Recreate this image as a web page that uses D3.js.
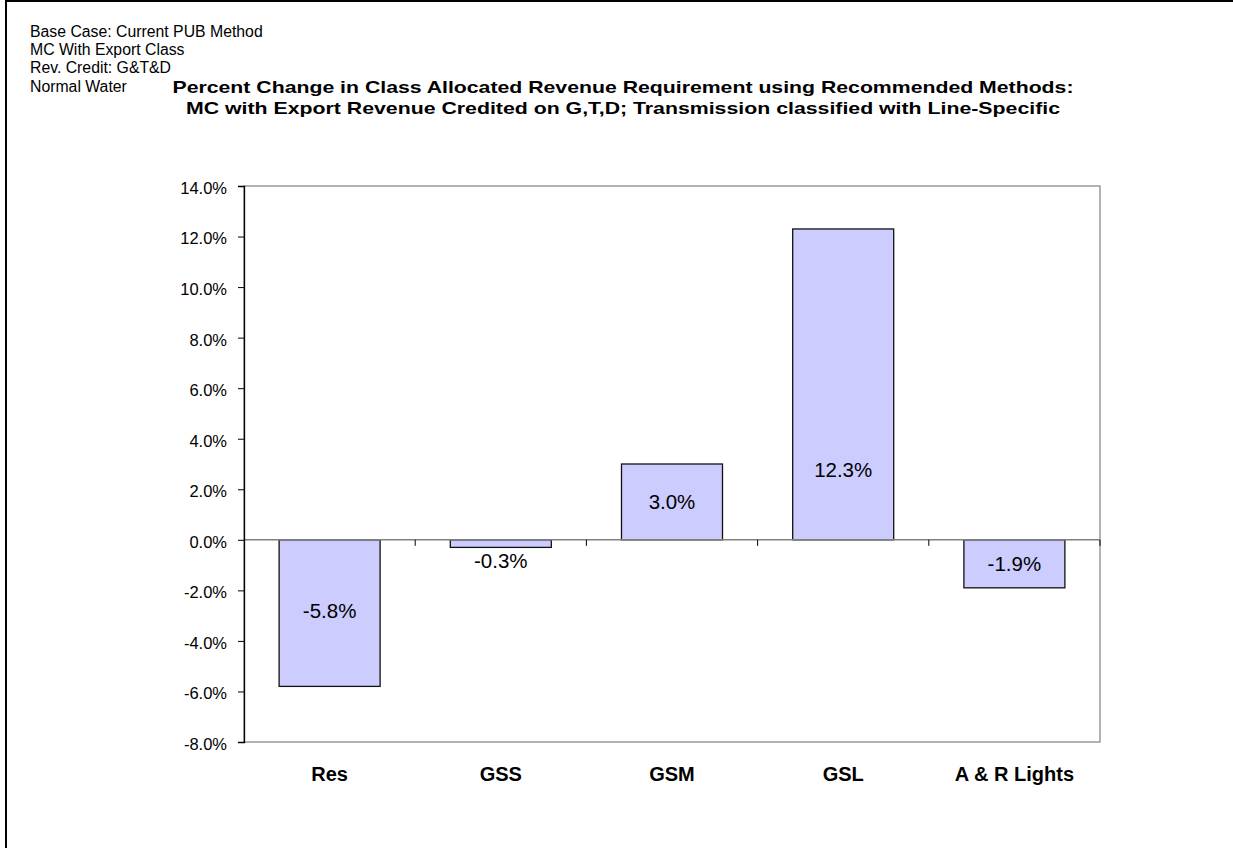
<!DOCTYPE html>
<html>
<head>
<meta charset="utf-8">
<script src="https://cdn.jsdelivr.net/npm/d3@7"></script>
<style>
  html, body { margin: 0; padding: 0; background: #fff; }
  svg { display: block; font-family: "Liberation Sans", Arial, sans-serif; }
</style>
</head>
<body>
<svg id="chart" width="1233" height="848"></svg>
<script>
// chart data
const categories = ['Res', 'GSS', 'GSM', 'GSL', 'A & R Lights'];
const values = [-5.8, -0.3, 3.0, 12.3, -1.9];
const yTicks = [-8, -6, -4, -2, 0, 2, 4, 6, 8, 10, 12, 14];
const notes = ['Base Case: Current PUB Method', 'MC With Export Class', 'Rev. Credit: G&T&D', 'Normal Water'];
const titleLines = [
  'Percent Change in Class Allocated Revenue Requirement using Recommended Methods:',
  'MC with Export Revenue Credited on G,T,D; Transmission classified with Line-Specific'
];

const svg = d3.select('#chart');
const plot = { left: 244, right: 1100, top: 186, bottom: 742 };
const font = '"Liberation Sans", Arial, sans-serif';

// outer chart border (only top/left show inside the frame)
svg.append('rect')
  .attr('x', 6).attr('y', 1)
  .attr('width', 1240).attr('height', 860)
  .attr('fill', 'none')
  .attr('stroke', '#000')
  .attr('stroke-width', 2);

// notes top-left
svg.append('g').selectAll('text')
  .data(notes)
  .enter()
  .append('text')
  .attr('x', 30)
  .attr('y', (d, i) => 37 + i * 18.2)
  .style('font-size', '15.8px')
  .text(d => d);

// title (the picture shows it widened, so stretch to the width seen there)
const titleWidths = [901, 874];
svg.append('g').selectAll('text')
  .data(titleLines)
  .enter()
  .append('text')
  .attr('x', 623)
  .attr('y', (d, i) => 92.5 + i * 21)
  .attr('text-anchor', 'middle')
  .attr('textLength', (d, i) => titleWidths[i])
  .attr('lengthAdjust', 'spacingAndGlyphs')
  .style('font-size', '17px')
  .style('font-weight', 'bold')
  .text(d => d);

const x = d3.scaleBand()
  .domain(categories)
  .range([plot.left, plot.right])
  .paddingInner(0.41)
  .paddingOuter(0.205);

const y = d3.scaleLinear()
  .domain([-8, 14])
  .range([plot.bottom, plot.top]);

// plot area frame
svg.append('rect')
  .attr('x', plot.left).attr('y', y(14))
  .attr('width', plot.right - plot.left)
  .attr('height', y(-8) - y(14))
  .attr('fill', 'none')
  .attr('stroke', '#808080')
  .attr('stroke-width', 1.2);

// bars
svg.append('g').selectAll('rect')
  .data(values)
  .enter()
  .append('rect')
  .attr('x', (d, i) => x(categories[i]))
  .attr('y', d => y(Math.max(0, d)))
  .attr('width', x.bandwidth())
  .attr('height', d => Math.abs(y(d) - y(0)))
  .attr('fill', '#ccccff')
  .attr('stroke', '#111')
  .attr('stroke-width', 1.3);

// zero line with category ticks
svg.append('line')
  .attr('x1', plot.left).attr('x2', plot.right)
  .attr('y1', y(0)).attr('y2', y(0))
  .attr('stroke', '#808080')
  .attr('stroke-width', 1.5);

const boundaries = d3.range(1, categories.length + 1)
  .map(i => plot.left + i * (plot.right - plot.left) / categories.length);
svg.append('g').selectAll('line')
  .data(boundaries)
  .enter()
  .append('line')
  .attr('x1', d => d).attr('x2', d => d)
  .attr('y1', y(0)).attr('y2', y(0) + 6)
  .attr('stroke', '#000')
  .attr('stroke-width', 1);

// y axis
const yAxis = d3.axisLeft(y)
  .tickValues(yTicks)
  .tickSize(6)
  .tickPadding(11)
  .tickFormat(d => d.toFixed(1) + '%');

const gy = svg.append('g')
  .attr('transform', `translate(${plot.left},0)`)
  .call(yAxis);
gy.select('.domain').attr('stroke', '#000').attr('stroke-width', 1.3);
gy.selectAll('.tick line').attr('stroke', '#000');
gy.selectAll('.tick text')
  .attr('fill', '#000')
  .attr('dy', '0.45em')
  .style('font-size', '16.5px')
  .style('font-family', font);

// category labels
svg.append('g').selectAll('text')
  .data(categories)
  .enter()
  .append('text')
  .attr('x', d => x(d) + x.bandwidth() / 2)
  .attr('y', 781)
  .attr('text-anchor', 'middle')
  .style('font-size', '20px')
  .style('font-weight', 'bold')
  .text(d => d);

// value labels
svg.append('g').selectAll('text')
  .data(values)
  .enter()
  .append('text')
  .attr('x', (d, i) => x(categories[i]) + x.bandwidth() / 2)
  .attr('y', d => {
    if (Math.abs(d) < 1) return y(d) + 21;
    const mid = Math.sign(d) * Math.min(Math.abs(d) / 2, 2.8);
    return y(mid) + 7.5;
  })
  .attr('text-anchor', 'middle')
  .style('font-size', '20.5px')
  .text(d => d.toFixed(1) + '%');
</script>
</body>
</html>
